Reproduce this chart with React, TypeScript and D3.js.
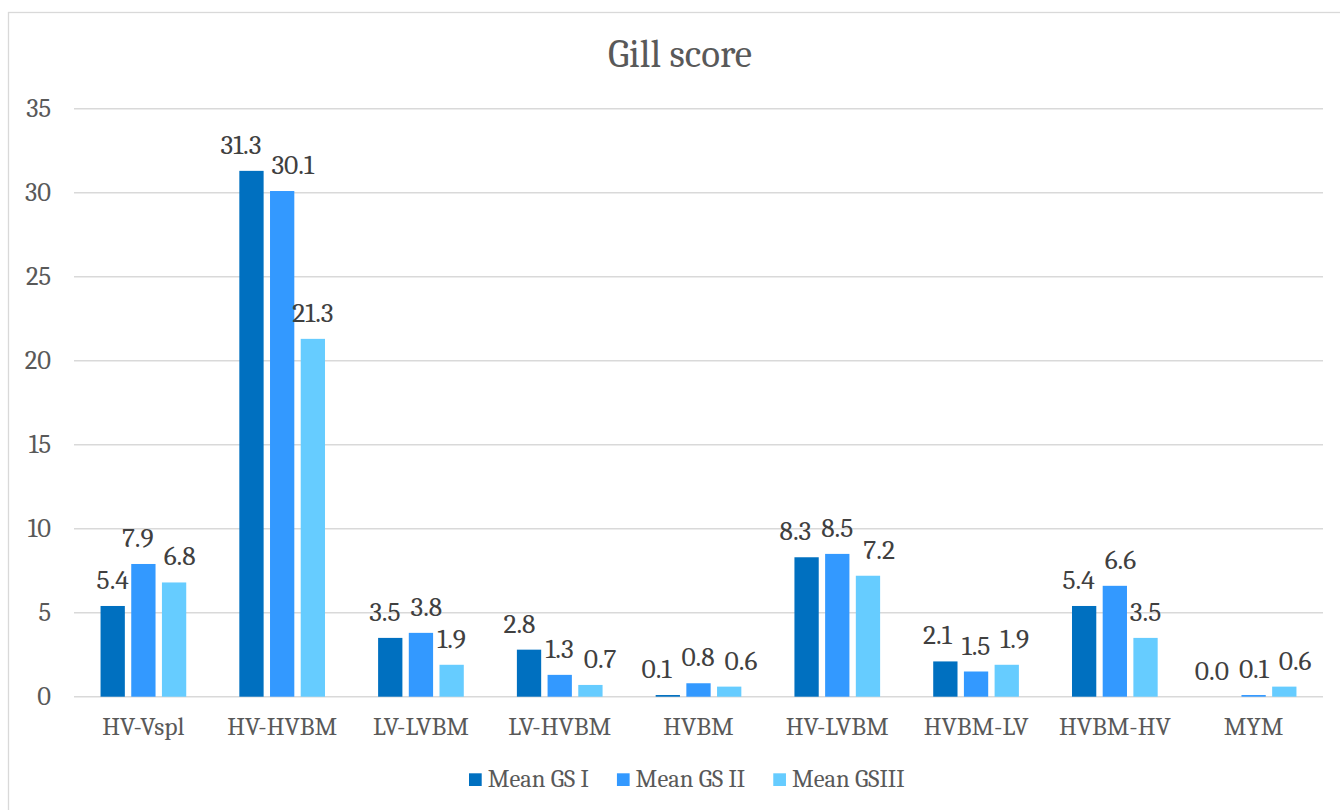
import { useEffect, useRef } from 'react';
import * as d3 from 'd3';

const categories = ['HV-Vspl', 'HV-HVBM', 'LV-LVBM', 'LV-HVBM', 'HVBM', 'HV-LVBM', 'HVBM-LV', 'HVBM-HV', 'MYM'];
const seriesNames = ['Mean GS I', 'Mean GS II', 'Mean GSIII'];
const gs1 = [5.4, 31.3, 3.5, 2.8, 0.1, 8.3, 2.1, 5.4, 0.0];
const gs2 = [7.9, 30.1, 3.8, 1.3, 0.8, 8.5, 1.5, 6.6, 0.1];
const gs3 = [6.8, 21.3, 1.9, 0.7, 0.6, 7.2, 1.9, 3.5, 0.6];
const yTicks = [0, 5, 10, 15, 20, 25, 30, 35];
const colors = ['#0070C0', '#3399FF', '#66CCFF'];

const FONT = 'Cambria, Caladea, "Liberation Serif", serif';
const TEXT = '#595959';

export default function App() {
  const svgRef = useRef<SVGSVGElement>(null);
  const width = 1340;
  const height = 810;

  useEffect(() => {
    if (!svgRef.current) return;
    const svg = d3.select(svgRef.current);
    svg.selectAll('*').remove();

    const values = [gs1, gs2, gs3];
    const left = 74, right = 1323, top = 108.7, bottom = 696.7;

    // chart frame (right/bottom edges fall outside the picture)
    svg.append('rect')
      .attr('x', 8.5).attr('y', 12.5)
      .attr('width', 1343).attr('height', 805)
      .attr('fill', '#fff')
      .attr('stroke', '#d9d9d9')
      .attr('stroke-width', 1.3);

    const x0 = d3.scaleBand<string>()
      .domain(categories)
      .range([left, right])
      .paddingInner(0.3826)
      .paddingOuter(0.1913);

    const x1 = d3.scaleBand<string>()
      .domain(seriesNames)
      .range([0, x0.bandwidth()])
      .paddingInner(0.2085);

    const y = d3.scaleLinear().domain([0, 35]).range([bottom, top]);

    // title
    svg.append('text')
      .attr('x', 680)
      .attr('y', 66.7)
      .attr('text-anchor', 'middle')
      .attr('font-family', FONT)
      .attr('font-size', '39px')
      .attr('fill', TEXT)
      .text('Gill score');

    // gridlines + y labels
    svg.append('g')
      .selectAll('line')
      .data(yTicks)
      .join('line')
      .attr('x1', left).attr('x2', right)
      .attr('y1', d => y(d)).attr('y2', d => y(d))
      .attr('stroke', '#d9d9d9')
      .attr('stroke-width', 1.4);

    svg.append('g')
      .selectAll('text')
      .data(yTicks)
      .join('text')
      .attr('x', 51)
      .attr('y', d => y(d))
      .attr('dy', '0.33em')
      .attr('text-anchor', 'end')
      .attr('font-family', FONT)
      .attr('font-size', '26.5px')
      .attr('fill', TEXT)
      .text(d => d);

    // bars
    const groups = svg.append('g')
      .selectAll('g')
      .data(categories)
      .join('g')
      .attr('transform', d => `translate(${x0(d)},0)`);

    groups.selectAll('rect')
      .data((_, i) => seriesNames.map((s, j) => ({ s, j, v: values[j][i] })))
      .join('rect')
      .attr('x', d => x1(d.s) || 0)
      .attr('y', d => y(d.v))
      .attr('width', x1.bandwidth())
      .attr('height', d => bottom - y(d.v))
      .attr('fill', d => colors[d.j]);

    // data labels, nudged sideways when neighbours collide (like Excel does)
    groups.each(function (_, i) {
      const g = d3.select(this);
      const lbls = seriesNames.map((s, j) => {
        const t = g.append('text')
          .attr('y', y(values[j][i]) - 17)
          .attr('text-anchor', 'middle')
          .attr('font-family', FONT)
          .attr('font-size', '27.5px')
          .attr('fill', '#404040')
          .text(values[j][i].toFixed(1));
        const w = (t.node() as SVGTextElement).getComputedTextLength();
        return { t, x: (x1(s) || 0) + x1.bandwidth() / 2, w, yb: y(values[j][i]) - 17 };
      });
      const minGap = 10;
      for (let k = 0; k < 30; k++) {
        for (let a = 0; a < lbls.length - 1; a++) {
          const p = lbls[a], q = lbls[a + 1];
          if (Math.abs(p.yb - q.yb) > 26) continue;
          const gap = (q.x - q.w / 2) - (p.x + p.w / 2);
          if (gap < minGap) {
            const push = (minGap - gap) / 2;
            p.x -= push;
            q.x += push;
          }
        }
      }
      lbls.forEach(l => l.t.attr('x', l.x));
    });

    // category labels
    svg.append('g')
      .selectAll('text')
      .data(categories)
      .join('text')
      .attr('x', d => (x0(d) || 0) + x0.bandwidth() / 2)
      .attr('y', 735)
      .attr('text-anchor', 'middle')
      .attr('font-family', FONT)
      .attr('font-size', '25.5px')
      .attr('fill', TEXT)
      .text(d => d);

    // legend
    const items = svg.append('g')
      .selectAll('g')
      .data(seriesNames)
      .join('g');
    items.append('rect')
      .attr('width', 12.7).attr('height', 12.7)
      .attr('y', 773.3)
      .attr('fill', (_, i) => colors[i]);
    const labels = items.append('text')
      .attr('x', 18.7)
      .attr('y', 786.5)
      .attr('font-family', FONT)
      .attr('font-size', '24.5px')
      .attr('fill', TEXT)
      .text(d => d);

    const widths: number[] = [];
    labels.each(function () {
      widths.push((this as SVGTextElement).getComputedTextLength());
    });
    let cx = 469;
    items.attr('transform', (_, i) => {
      const t = `translate(${cx},0)`;
      cx += 18.7 + widths[i] + 28;
      return t;
    });
  }, []);

  return (
    <svg
      ref={svgRef}
      width={width}
      height={height}
      style={{ position: 'absolute', left: 0, top: 0, background: '#fff' }}
    />
  );
}
